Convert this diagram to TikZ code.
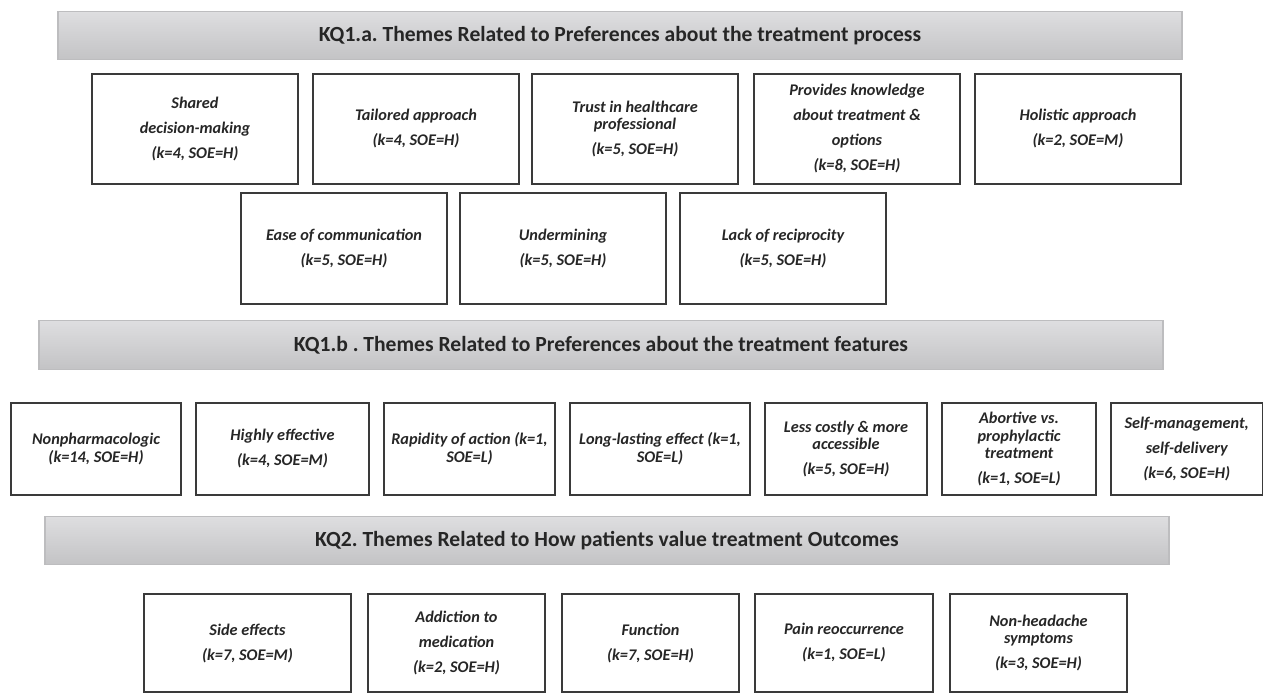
\documentclass[tikz,border=0pt]{standalone}
\usepackage{fontspec}
\setmainfont{Carlito}
\frenchspacing
\definecolor{barline}{HTML}{BDBDBF}
\definecolor{bartop}{HTML}{DEDEE0}
\definecolor{barbot}{HTML}{C3C3C5}
\definecolor{boxline}{HTML}{3A3A3A}
\definecolor{ink}{HTML}{262626}
\tikzset{
  themebox/.style={draw=boxline, line width=1pt, rectangle, inner sep=0pt, outer sep=0pt,
    align=center, text=ink, font=\bfseries\itshape\fontsize{12.2}{18.75}\selectfont},
  kqbar/.style={draw=barline, line width=0.9pt, top color=bartop, bottom color=barbot,
    minimum width=843pt, minimum height=36.5pt, inner sep=0pt, outer sep=0pt,
    text=ink, font=\bfseries\fontsize{16.2}{19}\selectfont}
}
\newcommand{\addtheme}[6]{%
  \node[themebox, minimum width={(#4-#2)*0.75pt}, minimum height={(#5-#3)*0.75pt}]
    (#1) at ({(#2+#4)/2},{(#3+#5)/2}) {#6};}
\newcommand{\tight}{\\[-5.4pt]}
\begin{document}
\begin{tikzpicture}[x=0.75pt,y=-0.75pt]
  \useasboundingbox (0,0) rectangle (1264,693);

  \node[kqbar] (kqa) at (620,35.5) {KQ1.a. Themes Related to Preferences about the treatment process};
  \addtheme{shared}{92}{74}{298}{184}{Shared\\decision-making\\(k=4, SOE=H)}
  \addtheme{tailored}{313}{74}{519}{184}{Tailored approach\\(k=4, SOE=H)}
  \addtheme{trust}{532}{74}{738}{184}{Trust in healthcare\tight professional\\(k=5, SOE=H)}
  \addtheme{knowledge}{754}{74}{960}{184}{Provides knowledge\\about treatment \&\\options\\(k=8, SOE=H)}
  \addtheme{holistic}{975}{74}{1181}{184}{Holistic approach\\(k=2, SOE=M)}
  \addtheme{ease}{241}{193}{447}{304}{Ease of communication\\(k=5, SOE=H)}
  \addtheme{undermine}{460}{193}{666}{304}{Undermining\\(k=5, SOE=H)}
  \addtheme{reciproc}{680}{193}{886}{304}{Lack of reciprocity\\(k=5, SOE=H)}

  \node[kqbar] (kqb) at (601,345) {KQ1.b . Themes Related to Preferences about the treatment features};
  \addtheme{nonpharm}{11}{403}{181}{495}{Nonpharmacologic\tight(k=14, SOE=H)}
  \addtheme{effective}{196}{403}{369}{495}{Highly effective\\(k=4, SOE=M)}
  \addtheme{rapid}{384}{403}{555}{495}{Rapidity of action (k=1,\tight SOE=L)}
  \addtheme{lasting}{570}{403}{750}{495}{Long-lasting effect (k=1,\tight SOE=L)}
  \addtheme{costly}{765}{403}{927}{495}{Less costly \& more\tight accessible\\(k=5, SOE=H)}
  \addtheme{abortive}{942}{403}{1096}{495}{Abortive vs.\tight prophylactic\tight treatment\\(k=1, SOE=L)}
  \addtheme{selfmgmt}{1111}{403}{1262.5}{495}{Self-management,\\self-delivery\\(k=6, SOE=H)}

  \node[kqbar] (kq2) at (607,540.5) {KQ2. Themes Related to How patients value treatment Outcomes};
  \addtheme{side}{144}{594}{351}{692}{Side effects\\(k=7, SOE=M)}
  \addtheme{addiction}{368}{594}{545}{692}{Addiction to\\medication\\(k=2, SOE=H)}
  \addtheme{function}{562}{594}{739}{692}{Function\\(k=7, SOE=H)}
  \addtheme{pain}{755}{594}{933}{692}{Pain reoccurrence\\(k=1, SOE=L)}
  \addtheme{headache}{950}{594}{1127}{692}{Non-headache\tight symptoms\\(k=3, SOE=H)}
\end{tikzpicture}
\end{document}
